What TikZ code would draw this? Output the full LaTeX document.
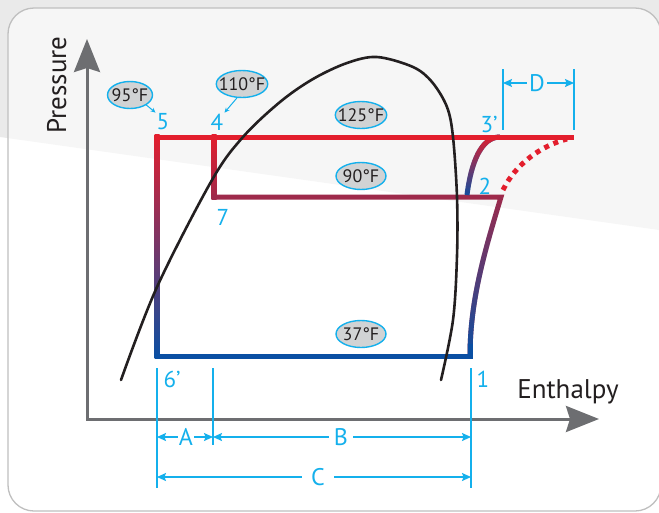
\documentclass[tikz,border=0pt]{standalone}
\usepackage{fontspec}
\setmainfont{PT Sans}
\usetikzlibrary{arrows.meta,positioning,calc,shapes.geometric,fadings}
\definecolor{cycRed}{RGB}{227,30,45}
\definecolor{cycBlue}{RGB}{10,79,163}
\definecolor{cycPurple}{RGB}{158,42,75}
\definecolor{dimCyan}{RGB}{20,176,236}
\definecolor{axisGray}{RGB}{109,110,113}
\definecolor{bubFill}{RGB}{209,211,212}
\definecolor{inkDark}{RGB}{35,31,32}
\definecolor{bandGray}{RGB}{234,234,234}
\tikzset{
  axisln/.style={{Stealth[length=33pt,width=26pt,inset=4pt]}-{Stealth[length=33pt,width=26pt,inset=4pt]}, line width=3pt, axisGray, line join=miter},
  axislbl/.style={inkDark, font=\fontsize{27}{30}\selectfont, inner sep=0pt},
  cycln/.style={line width=5pt, line join=miter},
  dotln/.style={cycRed, line width=5pt, dash pattern=on 5pt off 5pt},
  domeln/.style={inkDark, line width=2.6pt, line cap=round},
  dimln/.style={dimCyan, line width=1.2pt},
  dimarr/.style={dimln, -{Stealth[length=9pt,width=8pt,inset=1.5pt]}},
  dimlbl/.style={dimCyan, font=\fontsize{24}{26}\selectfont, inner xsep=5pt},
  ptlbl/.style={dimCyan, font=\fontsize{23}{25}\selectfont, inner sep=1pt},
  ptrarr/.style={dimCyan, line width=1pt, -{Stealth[length=5pt,width=4.5pt]}},
  bubble/.style={ellipse, draw=dimCyan, fill=bubFill, line width=1.4pt, text=inkDark,
    font=\fontsize{18}{20}\selectfont, inner xsep=-5pt, inner ysep=0pt,
    minimum width=#1, minimum height=27pt},
  bubble/.default=50pt,
  panel/.style={draw=gray!50, line width=1.3pt, fill=white, fill opacity=0.6, rounded corners=26pt},
}

\begin{document}
\begin{tikzpicture}[x=1pt, y=-1pt]
    % Backdrop
    \useasboundingbox (0,0) rectangle (659,512);
    \fill[bandGray] (0,0) -- (659,0) -- (659,230) -- (0,137) -- cycle;
    \draw[panel] (8,8) rectangle (661,511);
    % Axes
    \coordinate (O) at (87,419);
    \coordinate (yTip) at (87,39);
    \coordinate (xTip) at (599,419);
    \draw[axisln] (yTip) -- (O) -- (xTip);
    \node[axislbl, rotate=90, anchor=base] (lblP) at (66,85) {Pressure};
    \node[axislbl, anchor=base] (lblH) at (568,398) {Enthalpy};
    % Cycle corners
    \coordinate (p5) at (157,137);
    \coordinate (p4) at (214,137);
    \coordinate (p3) at (500,137);
    \coordinate (pD) at (574,137);
    \coordinate (p7) at (214,197);
    \coordinate (p2) at (501,197);
    \coordinate (pS) at (467,195);
    \coordinate (p6) at (157,356);
    \coordinate (p1) at (470,356);
    % Vertical legs
    \shade[top color=cycRed, bottom color=cycBlue] ($(p5)+(-2.5,-2.5)$) rectangle ($(p6)+(2.5,2.5)$);
    \shade[top color=cycRed, bottom color=cycPurple] ($(p4)+(-2.5,-2.5)$) rectangle ($(p7)+(2.5,2.5)$);
    % Middle line and compression 1-2
    \draw[cycln, cycPurple] ($(p7)+(-2.5,0)$) -- (p2) .. controls (485,250) and (470,300) .. (p1);
    \draw[cycln, cycBlue, path fading=north] (p2) .. controls (485,250) and (470,300) .. (p1);
    \draw[cycln, cycBlue] ($(p6)+(-2.5,0)$) -- (p1) -- ($(p1)+(0,-12)$);
    % Curve up to 3'
    \draw[cycln, cycBlue] (pS) .. controls (471,163) and (481,137) .. (p3);
    \draw[cycln, cycRed, path fading=south] (pS) .. controls (471,163) and (481,137) .. (p3);
    % Top line
    \draw[cycln, cycRed] ($(p5)+(-2.5,0)$) -- (pD);
    \draw[dotln] (503,190) .. controls (515,165) and (540,146) .. (567,139);
    % Saturation dome
    \draw[domeln] plot[smooth, tension=0.55] coordinates {(121,380) (157,287) (212,180) (243,137)
      (280,102) (313,79) (347,63) (377,57) (413,67) (432,82) (447,107) (453,137)
      (457,197) (457,256) (453,320) (441,380)};
    % State points
    \node[ptlbl] (n5) at (163,122) {5};
    \node[ptlbl] (n4) at (217,122) {4};
    \node[ptlbl] (n3) at (489,124) {3’};
    \node[ptlbl] (n2) at (485,186) {2};
    \node[ptlbl] (n7) at (223,217) {7};
    \node[ptlbl] (n6) at (172,379) {6’};
    \node[ptlbl] (n1) at (483,379) {1};
    % Temperatures
    \node[bubble=45pt] (b95) at (130,95) {95°F};
    \node[bubble] (b110) at (242,84) {110°F};
    \node[bubble] (b125) at (361,115) {125°F};
    \node[bubble] (b90) at (361,176) {90°F};
    \node[bubble] (b37) at (361,334) {37°F};
    \draw[ptrarr] (b95.south east) -- (n5.north west);
    \draw[ptrarr] (b110.-110) -- (n4.north east);
    % Dimensions
    \coordinate (e6) at (157,368);
    \coordinate (e7) at (213,368);
    \coordinate (e1) at (471,368);
    \coordinate (d0) at (503,69);
    \coordinate (d1) at (574,69);
    \draw[dimln] (e6) -- ++(0,120);
    \draw[dimln] (e7) -- ++(0,77);
    \draw[dimln] (e1) -- ++(0,120);
    \draw[dimln] (d0) -- ++(0,61);
    \draw[dimln] (d1) -- ++(0,61);
    \node[dimlbl, inner xsep=1pt] (lA) at (186,437) {A};
    \node[dimlbl] (lB) at (341,437) {B};
    \node[dimlbl, inner xsep=9pt] (lC) at (318,477) {C};
    \node[dimlbl, inner xsep=2pt] (lD) at (537,83) {D};
    \draw[dimarr] (lA) -- (lA -| e6);
    \draw[dimarr] (lA) -- (lA -| e7);
    \draw[dimarr] (lB) -- (lB -| e7);
    \draw[dimarr] (lB) -- (lB -| e1);
    \draw[dimarr] (lC) -- (lC -| e6);
    \draw[dimarr] (lC) -- (lC -| e1);
    \draw[dimarr] (lD) -- (lD -| d0);
    \draw[dimarr] (lD) -- (lD -| d1);
\end{tikzpicture}
\end{document}
